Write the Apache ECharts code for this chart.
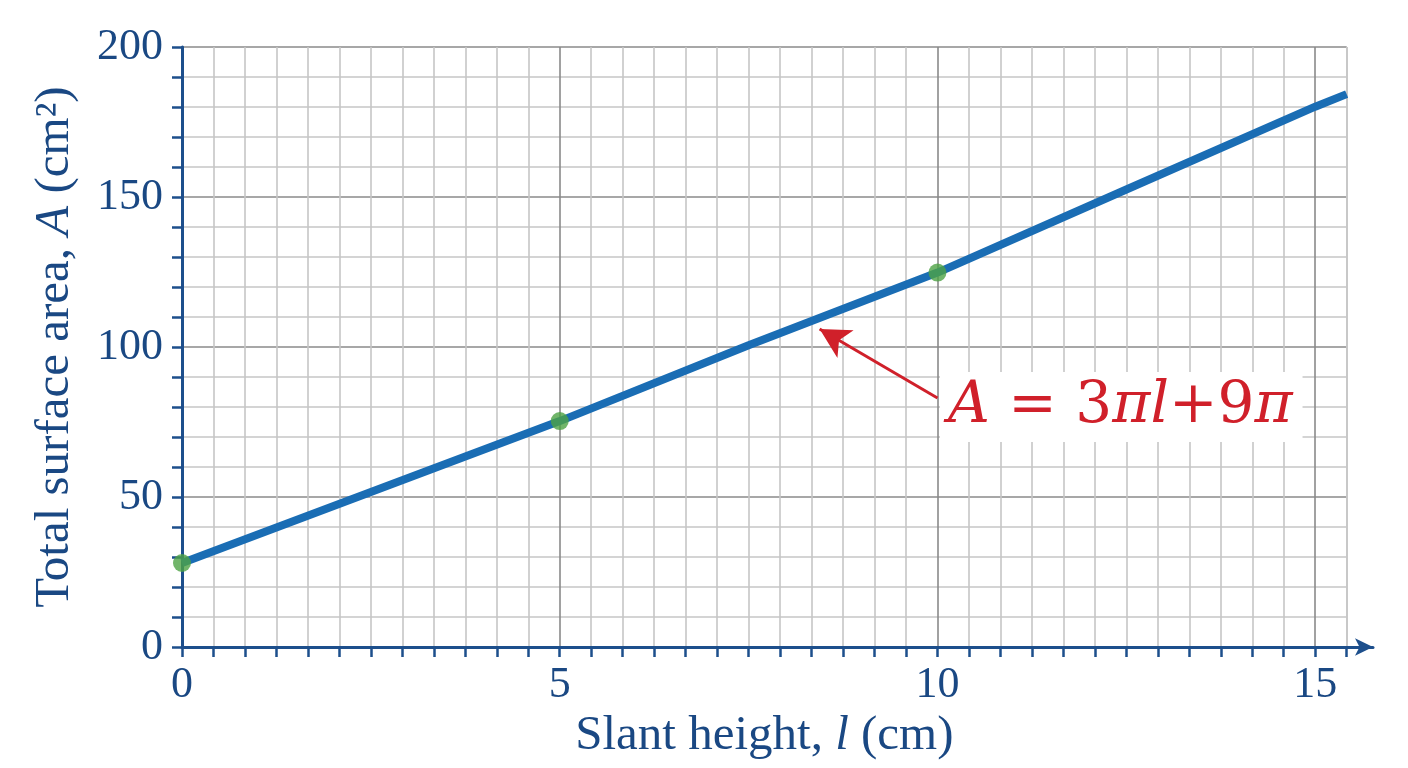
<!DOCTYPE html>
<html>
<head>
<meta charset="utf-8">
<script src="https://cdn.jsdelivr.net/npm/echarts@6/dist/echarts.min.js"></script>
<style>
html,body{margin:0;padding:0;background:#fff;}
#chart{width:1408px;height:768px;}
</style>
</head>
<body>
<div id="chart"></div>
<script>
// ---- data ----
const slantHeight = [0, 2.5, 5, 7.5, 10, 12.5, 15, 15.416];
const surfaceArea = [28, 51.7, 75.3, 100.6, 124.8, 152.5, 180.1, 184.3];
const pointL = [0, 5, 10];
const pointA = [28, 75.3, 124.8];
const xTickLabels = ['0', '5', '10', '15'];
const yTickLabels = ['0', '50', '100', '150', '200'];
const xAxisTitle = 'Slant height, {i|l} (cm)';
const yAxisTitle = 'Total surface area, {i|A} (cm²)';
const formulaText = '{i|A} = 3{i|π}{i|l}+9{i|π}';

// ---- styles ----
const FONT = 'Liberation Serif';
const NAVY = '#1a4883';
const AXIS = '#1d4f8c';
const xMinor = 5 / 12;
const xMax = 15 + 5 / 12;

const lineData = slantHeight.map((l, i) => [l, surfaceArea[i]]);
const dotData = pointL.map((l, i) => [l, pointA[i]]);

const minorX = [];
for (let i = 0; i < 12; i++) minorX.push(i === 0 ? '#8a8a8a' : '#c6c6c6');
const minorY = ['#8a8a8a', '#c6c6c6', '#c6c6c6', '#c6c6c6', '#c6c6c6'];

const chart = echarts.init(document.getElementById('chart'), null, {renderer: 'canvas'});
chart.setOption({
  backgroundColor: '#ffffff',
  animation: false,
  grid: [
    {left: 182, right: 61.3, top: 47, bottom: 121, containLabel: false},
    {left: 182, right: 35, top: 47, bottom: 121, containLabel: false}
  ],
  xAxis: [
    {
      type: 'value', gridIndex: 0, min: 0, max: xMax, interval: xMinor,
      name: xAxisTitle, nameLocation: 'middle', nameGap: 63,
      nameTextStyle: {fontFamily: FONT, fontSize: 49, color: NAVY,
        rich: {i: {fontFamily: FONT, fontSize: 49, color: NAVY, fontStyle: 'italic'}}},
      axisLine: {show: false},
      axisTick: {show: true, length: 10, lineStyle: {color: AXIS, width: 2.5}},
      axisLabel: {
        margin: 16, fontFamily: FONT, fontSize: 44, color: NAVY,
        formatter: function (v) {
          const k = Math.round(v / 5);
          if (Math.abs(v - k * 5) < 1e-6 && k < xTickLabels.length) return xTickLabels[k];
          return '';
        }
      },
      splitLine: {show: true, lineStyle: {color: minorX, width: 1.6}}
    },
    {
      type: 'value', gridIndex: 1, min: 0, max: 1,
      axisLine: {show: true, symbol: ['none', 'arrow'], symbolSize: [13, 18],
        lineStyle: {color: AXIS, width: 3}},
      axisTick: {show: false}, axisLabel: {show: false}, splitLine: {show: false}
    }
  ],
  yAxis: [
    {
      type: 'value', gridIndex: 0, min: 0, max: 200, interval: 10,
      name: yAxisTitle, nameLocation: 'middle', nameGap: 102, nameRotate: 90,
      nameTextStyle: {fontFamily: FONT, fontSize: 49, color: NAVY,
        rich: {i: {fontFamily: FONT, fontSize: 49, color: NAVY, fontStyle: 'italic'}}},
      axisLine: {show: true, lineStyle: {color: AXIS, width: 3}},
      axisTick: {show: true, length: 10, lineStyle: {color: AXIS, width: 2.5}},
      axisLabel: {
        margin: 19, fontFamily: FONT, fontSize: 44, color: NAVY,
        formatter: function (v) {
          const k = Math.round(v / 50);
          if (Math.abs(v - k * 50) < 1e-6) return yTickLabels[k];
          return '';
        }
      },
      splitLine: {show: true, lineStyle: {color: minorY, width: 1.6}}
    },
    {type: 'value', gridIndex: 1, show: false, min: 0, max: 1}
  ],
  series: [
    {
      type: 'line', xAxisIndex: 0, yAxisIndex: 0, data: lineData,
      showSymbol: false, symbol: 'none', smooth: false,
      lineStyle: {color: '#1a6db4', width: 8},
      z: 3,
      markLine: {
        silent: true, animation: false,
        symbol: ['none', 'arrow'], symbolSize: [24, 30],
        lineStyle: {color: '#d0202a', width: 3, type: 'solid'},
        label: {show: false},
        data: [[{coord: [10.0, 83]}, {coord: [8.44, 106]}]]
      }
    },
    {
      type: 'scatter', xAxisIndex: 0, yAxisIndex: 0, data: dotData,
      symbol: 'circle', symbolSize: 18,
      itemStyle: {color: '#4ea345'}, z: 4
    }
  ],
  graphic: [
    {
      type: 'text', left: 940, top: 372, z: 10,
      style: {
        text: formulaText,
        fontFamily: 'DejaVu Serif', fontSize: 58, fill: '#d0202a',
        backgroundColor: '#ffffff', padding: [6, 10, 6, 8],
        rich: {i: {fontFamily: 'DejaVu Serif', fontSize: 58, fill: '#d0202a', fontStyle: 'italic'}}
      }
    }
  ]
});
</script>
</body>
</html>
